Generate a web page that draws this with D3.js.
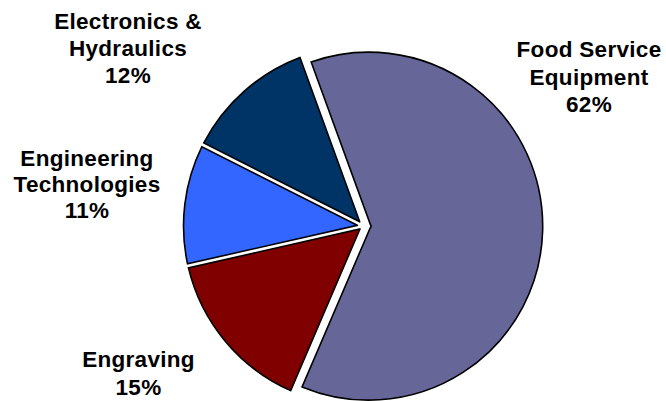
<!DOCTYPE html>
<html>
<head>
<meta charset="utf-8">
<script src="https://cdn.jsdelivr.net/npm/d3@7"></script>
<style>
  html, body { margin: 0; padding: 0; background: #ffffff; }
  svg { display: block; }
  text { font-family: "Liberation Sans", Arial, sans-serif; font-weight: bold; fill: #000; }
</style>
</head>
<body>
<svg id="chart" width="666" height="401"></svg>
<script>
// ---- data ----
const categories = ["Food Service Equipment", "Engraving", "Engineering Technologies", "Electronics & Hydraulics"];
const values = [62, 15, 11, 12];
const labelNames = [["Food Service", "Equipment"], ["Engraving"], ["Engineering", "Technologies"], ["Electronics &", "Hydraulics"]];
const colors = ["#666699", "#800000", "#3366FF", "#003366"];

// ---- layout ----
const center = { x: 363.5, y: 226 };
const radiusMain = 174, radiusOther = 180;
const explodeIndex = 0, explodeDist = 5.2;
const startDeg = -20;
const inset = 2.1;          // half of the gap between slices
const padR = 200;
const labelPos = [
  { x: 589, y: 57 },
  { x: 138.5, y: 367 },
  { x: 87, y: 166 },
  { x: 128, y: 28.5 }
];
const lineH = [27.6, 28.3, 26, 27.2];

const svg = d3.select("#chart");

const pie = d3.pie()
  .sort(null)
  .value(d => d)
  .startAngle(startDeg * Math.PI / 180)
  .endAngle((startDeg + 360) * Math.PI / 180);

const arcs = pie(values);

// constant-width gaps: edges offset by `inset`, tips meet at the offset vertex
const padA = 2 * Math.asin(inset / padR);
const arc = d3.arc()
  .outerRadius(d => d.index === explodeIndex ? radiusMain : radiusOther)
  .innerRadius(d => 1.0005 * inset / Math.sin((d.endAngle - d.startAngle) / 2))
  .padAngle(padA)
  .padRadius(padR);

const g = svg.append("g").attr("transform", `translate(${center.x},${center.y})`);

g.selectAll("path.slice")
  .data(arcs)
  .join("path")
  .attr("class", "slice")
  .attr("d", arc)
  .attr("fill", (d, i) => colors[i])
  .attr("stroke", "#000")
  .attr("stroke-width", 1.6)
  .attr("stroke-linejoin", "miter")
  .attr("transform", d => {
    if (d.index !== explodeIndex) return null;
    const mid = (d.startAngle + d.endAngle) / 2;
    return `translate(${explodeDist * Math.sin(mid)},${-explodeDist * Math.cos(mid)})`;
  });

// ---- labels ----
const total = d3.sum(values);
arcs.forEach((d, i) => {
  const lines = labelNames[i].concat([Math.round(values[i] / total * 100) + "%"]);
  const t = svg.append("text")
    .attr("text-anchor", "middle")
    .attr("font-size", 22.5)
    .attr("letter-spacing", 0.3)
    .attr("x", labelPos[i].x)
    .attr("y", labelPos[i].y);
  lines.forEach((ln, j) => {
    t.append("tspan")
      .attr("x", labelPos[i].x)
      .attr("y", labelPos[i].y + j * lineH[i])
      .text(ln);
  });
});
</script>
</body>
</html>
